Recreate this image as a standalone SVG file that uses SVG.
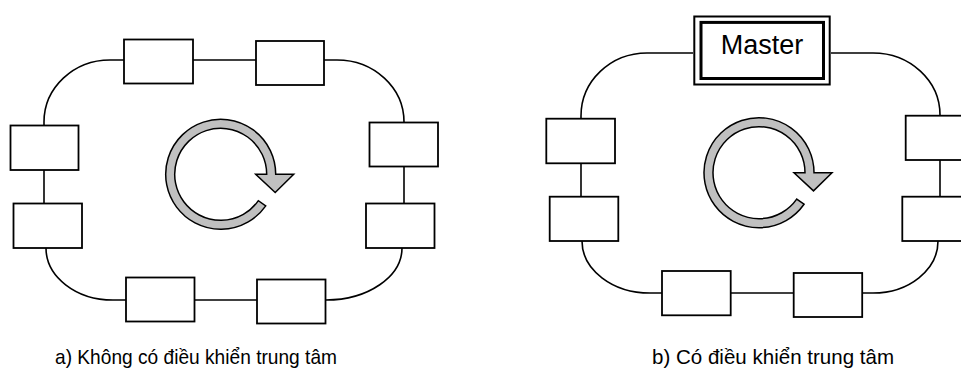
<svg xmlns="http://www.w3.org/2000/svg" xmlns:xlink="http://www.w3.org/1999/xlink" width="961" height="370" viewBox="0 0 961 370">
<style>
.box{fill:#fff;stroke:#000;stroke-width:1.8}
.wire{fill:none;stroke:#000;stroke-width:1.6}
.cyc{fill:#c0c0c0;stroke:#000;stroke-width:1.5;stroke-linejoin:miter}
.cap{font-family:"Liberation Sans",Arial,sans-serif;font-size:21px;fill:#000}
.mtxt{font-family:"Liberation Sans",Arial,sans-serif;font-size:27px;fill:#000}
</style>
<defs>
<path id="cycle" d="M45.05,31.55 A55,55 0 1 1 55,0 L73,0 L54.5,18.2 L35,0 L46,0 A46,46 0 1 0 37.68,26.38 Z"/>
</defs>
<rect width="961" height="370" fill="#fff"/>
<g id="connectors">
<path class="wire" d="M124,60 H110 A66,62 0 0 0 44,122 V125"/>
<path class="wire" d="M193,60 H256"/>
<path class="wire" d="M324,60 H337 A67,62 0 0 1 404,122"/>
<path class="wire" d="M44,170 V203"/>
<path class="wire" d="M404,167 V203"/>
<path class="wire" d="M46,248 A67,52 0 0 0 113,300 H126"/>
<path class="wire" d="M194,300 H257"/>
<path class="wire" d="M402,248 A76,52 0 0 1 326,300"/>
<path class="wire" d="M693,53 H647 A66,63 0 0 0 581,116 V119"/>
<path class="wire" d="M831,53 H873 A67,62 0 0 1 940,115 V116"/>
<path class="wire" d="M581,163 V197"/>
<path class="wire" d="M940,160 V197"/>
<path class="wire" d="M582,241 A68,52 0 0 0 650,293 H662"/>
<path class="wire" d="M731,293 H794"/>
<path class="wire" d="M862,293 H873 A65,52 0 0 0 938,241"/>
</g>
<g id="diagram-a">
<g id="a-n1"><rect class="box" x="124" y="39.5" width="69" height="44"/></g>
<g id="a-n2"><rect class="box" x="256" y="41" width="68" height="44"/></g>
<g id="a-n3"><rect class="box" x="369.5" y="122.5" width="68.5" height="44"/></g>
<g id="a-n4"><rect class="box" x="366" y="203.5" width="68.5" height="44.5"/></g>
<g id="a-n5"><rect class="box" x="257" y="279.5" width="68.5" height="44"/></g>
<g id="a-n6"><rect class="box" x="126" y="277.5" width="68.5" height="44"/></g>
<g id="a-n7"><rect class="box" x="13.5" y="203.5" width="68.5" height="44.5"/></g>
<g id="a-n8"><rect class="box" x="10.5" y="125.5" width="68" height="44.5"/></g>
<g id="a-cycle"><use xlink:href="#cycle" class="cyc" transform="translate(220.7,174.3)"/></g>
<text class="cap" x="55" y="363.5" textLength="282" lengthAdjust="spacingAndGlyphs">a) Không có điều khiển trung tâm</text>
</g>
<g id="diagram-b">
<g id="b-master">
<rect x="694.3" y="16.5" width="135.4" height="68" fill="#fff" stroke="#000" stroke-width="2"/>
<rect x="701" y="22.4" width="122.5" height="56.1" fill="#fff" stroke="#000" stroke-width="3"/>
<text class="mtxt" x="762" y="54" text-anchor="middle">Master</text>
</g>
<g id="b-n1"><rect class="box" x="905.7" y="115.7" width="69" height="44.3"/></g>
<g id="b-n2"><rect class="box" x="902.3" y="196.7" width="69" height="44.3"/></g>
<g id="b-n3"><rect class="box" x="793.7" y="273" width="68.5" height="44"/></g>
<g id="b-n4"><rect class="box" x="662" y="271" width="68.7" height="44.3"/></g>
<g id="b-n5"><rect class="box" x="549.7" y="196.7" width="68.6" height="44.3"/></g>
<g id="b-n6"><rect class="box" x="546.3" y="118.7" width="68.7" height="44.6"/></g>
<g id="b-cycle"><use xlink:href="#cycle" class="cyc" transform="translate(759,172.7)"/></g>
<text class="cap" x="652" y="363.5" textLength="242" lengthAdjust="spacingAndGlyphs">b) Có điều khiển trung tâm</text>
</g>
</svg>
